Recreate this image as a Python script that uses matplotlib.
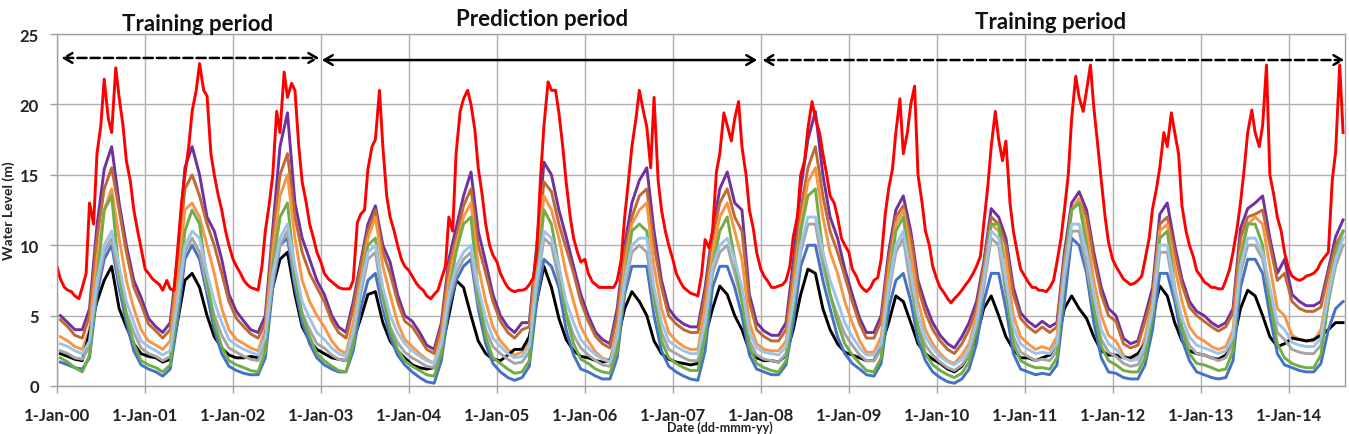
import numpy as np
import pandas as pd
import matplotlib
matplotlib.use("Agg")
import matplotlib.pyplot as plt
import matplotlib.dates as mdates

# ---------------- data ----------------
# red series: semi-monthly values (1st and 15th of each month), Jan 2000 - Aug 2014
red = [
    8.5, 7.6, 7.0, 6.8, 6.7, 6.4, 6.2, 7.0, 8.0, 13.0, 11.5, 16.5, 18.5, 21.8, 19.0, 18.0, 22.6, 20.5, 18.5, 16.0, 14.5, 12.5, 11.0, 9.8,
    8.3, 8.0, 7.6, 7.4, 7.2, 6.8, 7.5, 6.9, 6.8, 9.5, 13.0, 15.0, 17.0, 19.5, 21.0, 22.9, 21.0, 20.6, 16.5, 15.0, 13.5, 12.5, 11.0, 10.0,
    9.0, 8.5, 8.0, 7.5, 7.2, 7.0, 6.9, 6.8, 8.5, 11.0, 13.0, 15.0, 19.5, 18.0, 22.3, 20.5, 21.5, 21.0, 17.0, 14.5, 13.0, 11.5, 10.5, 9.5,
    8.8, 8.0, 7.6, 7.4, 7.2, 7.0, 6.9, 6.9, 6.9, 7.5, 11.6, 12.2, 12.5, 15.4, 17.0, 17.5, 21.0, 17.0, 13.5, 12.0, 11.0, 10.0, 9.0, 8.5,
    8.2, 7.8, 7.3, 7.0, 6.8, 6.4, 6.2, 6.5, 6.8, 7.6, 8.5, 12.0, 11.0, 16.5, 19.5, 20.4, 21.0, 20.0, 18.2, 15.5, 13.5, 11.5, 10.0, 9.3,
    8.8, 8.0, 7.4, 7.0, 6.8, 6.7, 6.8, 6.8, 6.9, 7.2, 7.7, 9.5, 14.9, 18.5, 21.6, 21.0, 21.0, 19.4, 17.0, 14.5, 12.0, 10.5, 9.5, 8.8,
    9.0, 8.0, 7.4, 7.2, 7.0, 7.0, 7.0, 7.0, 7.0, 7.5, 9.0, 12.0, 14.6, 17.0, 19.0, 21.0, 19.5, 18.4, 15.5, 20.5, 14.6, 12.5, 11.0, 10.0,
    9.0, 8.0, 7.4, 7.0, 6.8, 6.6, 6.5, 6.4, 8.0, 10.4, 9.8, 11.0, 15.2, 16.5, 19.4, 18.5, 17.4, 19.0, 20.2, 17.0, 15.0, 12.5, 11.2, 9.5,
    8.3, 7.8, 7.4, 7.0, 7.0, 7.1, 7.2, 7.5, 8.5, 10.6, 12.0, 15.0, 16.0, 18.3, 20.2, 19.0, 18.0, 16.5, 15.0, 13.5, 13.0, 12.0, 10.5, 10.0,
    9.5, 8.3, 7.8, 7.2, 6.9, 6.7, 7.0, 7.5, 7.7, 9.0, 12.2, 14.0, 15.4, 18.0, 20.4, 16.5, 18.0, 20.0, 21.3, 15.0, 13.0, 11.0, 10.0, 8.5,
    7.6, 7.0, 6.6, 6.2, 5.9, 6.2, 6.5, 6.8, 7.2, 7.5, 8.0, 8.5, 9.2, 11.5, 14.2, 17.0, 19.5, 17.5, 16.0, 17.4, 13.0, 11.0, 9.5, 8.3,
    7.8, 7.4, 7.0, 7.0, 6.8, 6.8, 6.7, 7.0, 7.5, 8.8, 10.5, 12.5, 15.0, 19.0, 22.0, 20.5, 19.5, 21.0, 22.8, 19.8, 17.0, 14.6, 12.0, 10.2,
    9.0, 8.5, 8.0, 7.6, 7.4, 7.2, 7.3, 7.5, 7.8, 9.0, 10.5, 12.6, 14.0, 15.5, 18.0, 17.0, 19.4, 18.0, 16.5, 12.8, 11.0, 10.0, 9.2, 8.2,
    7.8, 7.4, 7.2, 7.0, 7.0, 6.9, 6.9, 7.5, 8.3, 9.5, 11.2, 13.0, 15.5, 18.0, 19.6, 18.0, 17.0, 18.5, 22.8, 15.0, 13.5, 12.0, 11.0, 9.5,
    8.3, 7.8, 7.6, 7.5, 7.6, 7.8, 7.9, 8.0, 8.3, 8.8, 9.2, 9.5, 14.6, 16.6, 22.8, 18.0,
]

# other series: monthly values (mid-month), Jan 2000 - Aug 2014
purple = [
    5.0, 4.5, 4.0, 4.0, 5.5, 11.4, 15.4, 17.0, 13.0, 10.0, 7.5, 6.3,
    4.8, 4.2, 3.8, 4.5, 9.0, 15.5, 17.0, 15.0, 12.0, 11.0, 9.0, 6.5,
    5.3, 4.6, 4.0, 3.8, 5.0, 11.2, 17.0, 19.4, 13.0, 10.5, 9.0, 7.5,
    6.5, 5.0, 4.2, 3.8, 6.0, 8.8, 11.5, 12.8, 10.0, 8.8, 6.5, 5.0,
    4.6, 3.8, 2.9, 2.6, 4.5, 9.0, 11.2, 13.5, 15.2, 11.0, 8.8, 6.5,
    5.0, 4.2, 3.8, 4.5, 4.5, 10.0, 15.9, 15.0, 12.5, 10.6, 8.5, 6.5,
    5.0, 3.8, 3.3, 3.0, 5.5, 10.0, 13.0, 14.6, 15.5, 11.0, 7.5, 5.5,
    4.8, 4.4, 4.2, 4.2, 7.0, 11.0, 14.0, 15.2, 13.0, 12.5, 6.5, 4.5,
    3.9, 3.6, 3.6, 4.5, 8.8, 14.0, 17.5, 19.5, 15.0, 12.0, 10.5, 8.3,
    6.5, 4.8, 3.8, 3.8, 5.0, 9.5, 12.5, 13.5, 11.0, 7.5, 5.8, 4.5,
    3.6, 3.0, 2.7, 3.5, 4.5, 6.0, 8.8, 12.6, 12.0, 10.5, 7.0, 5.2,
    4.6, 4.2, 4.6, 4.2, 4.5, 9.5, 13.0, 13.8, 12.5, 9.5, 7.0, 5.5,
    5.0, 3.4, 3.0, 3.2, 5.0, 7.0, 12.2, 13.0, 10.0, 7.6, 6.0, 5.3,
    5.0, 4.5, 4.2, 4.5, 5.5, 11.2, 12.6, 13.0, 13.5, 10.5, 8.0, 9.0,
    6.5, 6.0, 5.7, 5.7, 6.0, 8.3, 10.6, 11.8,
]

brown = [
    4.7, 4.2, 3.6, 3.4, 5.0, 10.5, 14.0, 15.5, 12.5, 9.5, 7.0, 5.8,
    4.4, 3.9, 3.4, 4.0, 8.5, 14.0, 15.0, 13.5, 11.5, 10.0, 8.0, 6.0,
    4.8, 4.2, 3.7, 3.4, 4.5, 10.5, 15.0, 16.5, 12.0, 9.5, 8.0, 7.0,
    6.0, 4.6, 3.8, 3.4, 5.5, 8.5, 11.0, 12.5, 9.5, 8.0, 6.0, 4.6,
    4.2, 3.4, 2.6, 2.3, 4.2, 8.5, 10.5, 12.8, 14.0, 10.0, 8.0, 6.0,
    4.6, 3.8, 3.4, 4.0, 4.2, 9.5, 14.5, 13.8, 11.5, 9.8, 8.0, 6.0,
    4.6, 3.5, 3.0, 2.7, 5.0, 9.5, 12.0, 13.5, 14.0, 10.0, 7.0, 5.0,
    4.4, 4.0, 3.8, 3.8, 6.5, 10.5, 13.0, 14.0, 12.0, 11.0, 6.0, 4.0,
    3.5, 3.2, 3.2, 4.0, 8.0, 12.5, 15.5, 17.0, 13.5, 11.0, 9.5, 7.8,
    6.0, 4.4, 3.4, 3.4, 4.6, 9.0, 12.0, 12.8, 10.5, 7.0, 5.2, 4.0,
    3.2, 2.6, 2.3, 3.0, 4.0, 5.5, 8.5, 12.0, 11.5, 10.0, 6.5, 4.8,
    4.2, 3.8, 4.2, 3.8, 4.2, 9.0, 12.5, 13.3, 12.0, 9.0, 6.5, 5.0,
    4.6, 3.0, 2.7, 2.9, 4.6, 6.5, 11.5, 12.0, 9.5, 7.2, 5.6, 5.0,
    4.6, 4.2, 3.9, 4.2, 5.2, 10.5, 12.0, 12.2, 12.5, 10.0, 7.5, 8.0,
    6.0, 5.5, 5.3, 5.3, 5.6, 8.0, 10.0, 11.0,
]

orange = [
    3.5, 3.2, 2.8, 2.6, 4.0, 9.0, 12.5, 14.0, 10.5, 7.5, 5.5, 4.0,
    3.2, 2.9, 2.6, 3.2, 7.5, 12.5, 13.0, 12.0, 10.0, 8.0, 5.5, 4.0,
    3.3, 3.0, 2.7, 2.5, 4.0, 9.5, 13.5, 15.0, 10.5, 7.5, 6.0, 5.0,
    4.2, 3.2, 2.6, 2.3, 4.5, 7.5, 10.5, 12.0, 8.5, 6.5, 4.5, 3.3,
    2.8, 2.3, 1.9, 1.6, 3.5, 7.5, 10.0, 12.0, 13.0, 8.5, 6.0, 4.2,
    3.2, 2.6, 2.2, 2.4, 3.2, 8.5, 13.5, 12.5, 10.5, 8.0, 6.0, 4.2,
    3.2, 2.4, 2.0, 1.8, 4.0, 8.5, 11.5, 12.5, 13.0, 8.5, 5.5, 3.8,
    3.2, 2.8, 2.6, 2.6, 5.5, 9.5, 12.0, 13.0, 11.0, 9.0, 4.5, 3.0,
    2.6, 2.5, 2.5, 3.2, 7.0, 11.5, 14.5, 15.5, 12.0, 9.5, 8.0, 6.0,
    4.5, 3.2, 2.4, 2.4, 3.5, 8.0, 11.5, 12.5, 9.5, 6.0, 4.0, 3.0,
    2.3, 1.8, 1.6, 2.2, 3.0, 5.0, 8.0, 11.5, 11.0, 9.0, 5.0, 3.5,
    3.0, 2.6, 2.8, 2.6, 3.5, 8.5, 12.5, 13.3, 11.0, 7.5, 5.0, 3.6,
    3.2, 2.2, 1.9, 2.0, 3.5, 6.0, 11.0, 11.5, 8.5, 6.0, 4.2, 3.5,
    3.2, 2.8, 2.6, 2.8, 4.0, 9.5, 11.5, 12.0, 11.5, 8.5, 5.5, 5.0,
    3.6, 3.3, 3.2, 3.2, 4.0, 7.0, 9.5, 11.0,
]

light_blue = [
    3.0, 2.8, 2.5, 2.3, 3.2, 7.5, 10.0, 11.0, 8.5, 6.0, 4.5, 3.2,
    2.8, 2.5, 2.2, 2.5, 6.0, 10.0, 11.0, 10.5, 8.0, 6.0, 4.5, 3.3,
    2.9, 2.6, 2.4, 2.2, 3.5, 8.0, 10.5, 11.5, 8.5, 6.0, 4.8, 3.8,
    3.3, 2.7, 2.3, 2.1, 3.8, 7.0, 9.5, 10.0, 7.0, 5.0, 3.8, 3.0,
    2.5, 2.1, 1.8, 1.6, 3.0, 6.5, 8.5, 9.5, 10.0, 7.0, 4.8, 3.4,
    2.8, 2.3, 2.0, 2.1, 2.8, 7.5, 11.0, 10.5, 8.5, 6.0, 4.5, 3.3,
    2.7, 2.2, 1.9, 1.7, 3.5, 7.5, 10.0, 10.5, 10.5, 7.0, 4.5, 3.2,
    2.8, 2.5, 2.3, 2.3, 4.5, 8.5, 10.0, 10.5, 9.0, 7.0, 3.8, 2.7,
    2.4, 2.3, 2.2, 2.8, 6.0, 10.0, 12.0, 12.0, 9.5, 7.5, 6.0, 4.5,
    3.5, 2.7, 2.2, 2.2, 3.0, 7.0, 10.0, 11.0, 8.0, 5.0, 3.5, 2.7,
    2.1, 1.7, 1.5, 1.9, 2.6, 4.5, 7.5, 11.0, 10.5, 7.5, 4.2, 3.0,
    2.6, 2.3, 2.4, 2.3, 3.0, 8.0, 11.5, 11.5, 9.5, 6.5, 4.0, 3.0,
    2.6, 2.0, 1.8, 1.9, 3.0, 5.5, 10.0, 10.0, 7.0, 4.8, 3.5, 2.9,
    2.7, 2.5, 2.3, 2.5, 3.5, 8.5, 10.5, 10.5, 9.5, 7.0, 4.5, 4.0,
    3.1, 2.9, 2.8, 2.8, 3.4, 6.5, 9.0, 10.5,
]

grey = [
    2.5, 2.3, 2.0, 1.9, 2.8, 7.0, 9.5, 10.5, 7.5, 5.2, 3.8, 2.7,
    2.3, 2.1, 1.8, 2.1, 5.5, 9.5, 10.5, 9.5, 7.0, 5.0, 3.6, 2.7,
    2.4, 2.1, 1.9, 1.8, 3.0, 7.5, 10.0, 11.0, 7.5, 5.2, 4.0, 3.0,
    2.7, 2.2, 1.9, 1.8, 3.3, 6.5, 9.0, 9.5, 6.0, 4.2, 3.1, 2.4,
    2.0, 1.7, 1.4, 1.3, 2.6, 6.0, 8.0, 9.0, 9.5, 6.0, 4.0, 2.8,
    2.3, 1.9, 1.6, 1.7, 2.4, 7.0, 10.5, 10.0, 7.5, 5.2, 3.6, 2.7,
    2.2, 1.8, 1.5, 1.4, 3.0, 7.0, 9.5, 10.0, 9.5, 6.0, 3.8, 2.6,
    2.3, 2.0, 1.8, 1.8, 4.0, 8.0, 9.5, 10.0, 8.0, 6.0, 3.2, 2.2,
    1.9, 1.8, 1.7, 2.3, 5.5, 9.5, 11.5, 11.5, 8.5, 6.5, 5.0, 3.7,
    2.9, 2.2, 1.8, 1.8, 2.6, 6.5, 9.5, 10.5, 7.0, 4.3, 2.9, 2.2,
    1.7, 1.3, 1.1, 1.5, 2.2, 4.0, 7.0, 10.5, 10.0, 6.5, 3.5, 2.4,
    2.1, 1.8, 1.9, 1.8, 2.5, 7.5, 11.0, 11.0, 8.5, 5.5, 3.3, 2.4,
    2.1, 1.6, 1.4, 1.5, 2.5, 5.0, 9.5, 9.5, 6.5, 4.2, 2.9, 2.3,
    2.2, 2.0, 1.8, 2.0, 3.0, 8.0, 10.0, 10.0, 9.0, 6.3, 3.8, 3.3,
    2.6, 2.4, 2.3, 2.3, 2.9, 6.0, 8.5, 10.0,
]

green = [
    2.0, 1.7, 1.3, 1.0, 2.2, 7.5, 12.5, 13.5, 8.0, 5.0, 3.0, 1.8,
    1.5, 1.3, 1.0, 1.5, 5.5, 11.0, 12.5, 11.5, 7.5, 4.5, 2.8, 1.8,
    1.5, 1.3, 1.1, 1.0, 2.5, 8.5, 12.0, 13.0, 8.0, 5.0, 3.5, 2.3,
    1.8, 1.4, 1.1, 1.0, 3.0, 7.0, 10.0, 10.5, 6.5, 4.0, 2.6, 1.8,
    1.4, 1.1, 0.8, 0.7, 2.3, 6.5, 9.5, 11.5, 12.0, 6.5, 3.5, 2.0,
    1.6, 1.2, 0.9, 1.0, 1.8, 7.5, 12.5, 11.5, 8.5, 5.0, 3.0, 1.9,
    1.6, 1.2, 1.0, 0.9, 2.5, 7.5, 11.0, 11.5, 11.0, 6.5, 3.2, 2.0,
    1.6, 1.3, 1.1, 1.1, 3.5, 8.5, 11.0, 12.0, 9.0, 6.0, 2.8, 1.6,
    1.3, 1.1, 1.0, 1.8, 5.5, 11.0, 13.5, 14.0, 9.5, 6.5, 4.5, 3.0,
    2.2, 1.6, 1.1, 1.0, 2.0, 7.0, 11.0, 12.0, 8.0, 4.0, 2.3, 1.5,
    1.1, 0.8, 0.6, 0.9, 1.7, 4.0, 7.5, 11.5, 11.5, 7.0, 3.0, 1.8,
    1.5, 1.3, 1.3, 1.2, 2.0, 8.0, 12.5, 13.0, 10.0, 5.5, 2.8, 1.8,
    1.5, 1.1, 1.0, 1.0, 2.0, 5.0, 10.5, 11.0, 7.0, 4.0, 2.3, 1.6,
    1.5, 1.3, 1.1, 1.2, 2.5, 9.0, 11.5, 11.5, 10.0, 6.0, 3.0, 2.0,
    1.6, 1.4, 1.3, 1.3, 2.2, 6.0, 9.5, 11.0,
]

blue = [
    1.7, 1.5, 1.3, 1.2, 2.0, 6.5, 9.0, 10.0, 7.0, 4.5, 2.5, 1.5,
    1.2, 1.0, 0.7, 1.2, 4.5, 9.0, 10.0, 9.0, 6.5, 4.0, 2.3, 1.4,
    1.1, 0.9, 0.8, 0.8, 2.0, 7.0, 10.0, 10.5, 7.0, 4.5, 3.0, 2.0,
    1.5, 1.2, 1.0, 1.0, 2.5, 5.5, 7.5, 8.0, 5.5, 3.5, 2.2, 1.5,
    1.0, 0.6, 0.3, 0.2, 1.8, 5.5, 7.5, 8.5, 9.0, 5.5, 3.0, 1.6,
    1.0, 0.6, 0.4, 0.6, 1.4, 6.0, 9.0, 8.5, 7.0, 4.0, 2.2, 1.2,
    1.0, 0.7, 0.5, 0.5, 2.0, 6.5, 8.5, 8.5, 8.5, 5.0, 2.5, 1.4,
    1.0, 0.7, 0.5, 0.4, 2.5, 7.0, 8.5, 8.5, 7.0, 5.0, 2.2, 1.2,
    1.0, 0.8, 0.8, 1.5, 4.5, 8.5, 10.0, 10.0, 7.5, 5.5, 3.5, 2.3,
    1.6, 1.2, 0.8, 0.7, 1.6, 5.5, 7.5, 8.0, 6.0, 3.3, 1.8, 1.0,
    0.6, 0.3, 0.2, 0.5, 1.2, 3.0, 6.0, 8.0, 8.0, 5.5, 2.3, 1.2,
    1.0, 0.8, 0.9, 0.8, 1.5, 6.0, 10.5, 10.0, 8.0, 4.5, 2.0, 1.0,
    0.9, 0.6, 0.5, 0.5, 1.5, 4.0, 8.0, 8.0, 6.0, 3.3, 1.8, 1.0,
    0.8, 0.6, 0.5, 0.6, 1.8, 7.0, 9.0, 9.0, 8.0, 5.0, 2.3, 1.5,
    1.3, 1.1, 1.0, 1.0, 1.6, 4.0, 5.5, 6.0,
]

black = [
    2.3, 2.1, 1.9, 1.8, 3.8, 6.0, 7.5, 8.5, 5.5, 4.2, 3.0, 2.3,
    2.1, 2.0, 1.7, 1.9, 4.5, 7.5, 8.0, 7.0, 5.0, 3.5, 2.7, 2.2,
    2.0, 2.0, 2.1, 2.0, 3.5, 7.0, 9.0, 9.5, 6.5, 4.2, 3.2, 2.6,
    2.3, 2.0, 1.9, 1.8, 3.2, 4.8, 6.5, 6.7, 4.5, 3.2, 2.5, 2.0,
    1.5, 1.3, 1.2, 1.3, 2.5, 5.0, 7.5, 7.0, 5.0, 3.2, 2.3, 1.9,
    1.8, 2.2, 2.6, 2.6, 3.5, 6.0, 8.5, 7.0, 4.8, 3.3, 2.5, 2.1,
    2.0, 1.8, 1.7, 1.8, 3.2, 5.5, 6.7, 6.0, 5.0, 3.2, 2.3, 1.9,
    1.7, 1.6, 1.5, 1.6, 3.5, 5.5, 7.1, 6.5, 5.0, 4.0, 2.5, 2.0,
    1.8, 1.8, 1.7, 2.2, 4.0, 6.5, 8.3, 8.0, 5.5, 4.0, 3.0, 2.4,
    2.2, 2.0, 1.8, 1.8, 2.8, 4.5, 6.4, 6.0, 4.5, 3.0, 2.3, 1.9,
    1.6, 1.2, 1.0, 1.4, 2.2, 3.5, 5.5, 6.4, 5.0, 3.5, 2.6, 2.0,
    2.0, 1.8, 2.0, 2.2, 3.0, 5.5, 6.4, 5.5, 4.8, 3.5, 2.5, 2.2,
    2.2, 2.0, 2.0, 2.3, 3.0, 5.0, 7.1, 6.4, 4.5, 3.2, 2.5, 2.3,
    2.2, 2.0, 1.9, 2.2, 3.0, 5.5, 6.8, 6.4, 5.0, 3.5, 2.8, 3.0,
    3.4, 3.3, 3.2, 3.3, 3.6, 4.0, 4.5, 4.5,
]

period_labels = ["Training period", "Prediction period", "Training period"]
period_starts = ["2000-01-20", "2003-01-05", "2008-01-08"]
period_ends = ["2002-12-25", "2007-12-17", "2014-08-20"]
period_styles = ["--", "-", "--"]
tick_years = list(range(2000, 2015))
y_ticks = [0, 5, 10, 15, 20, 25]

# ---------------- figure ----------------
W, H, DPI = 1349, 435, 100
fig = plt.figure(figsize=(W / DPI, H / DPI), dpi=DPI)
ax = fig.add_axes([57 / W, (H - 387) / H, (1345 - 57) / W, (387 - 35) / H])

FONT = "Lato"

dates_semi = pd.date_range("2000-01-01", periods=len(red), freq="SMS")
dates_month = pd.date_range("2000-01-01", periods=len(purple), freq="MS") + pd.Timedelta(days=14)

lw = 2.1
series = [
    (purple, "#7030A0"),
    (brown, "#BF6A33"),
    (orange, "#F79646"),
    (black, "#000000"),
    (blue, "#4472C4"),
    (grey, "#A5A5A5"),
    (green, "#70AD47"),
    (light_blue, "#9DC3E6"),
]
for vals, col in series:
    ax.plot(dates_month, vals, color=col, lw=lw)
ax.plot(dates_semi, red, color="#FF0000", lw=lw)

ax.set_ylim(0, 25)
ax.set_yticks(y_ticks)
x0 = pd.Timestamp("2000-01-01")
x1 = pd.Timestamp("2014-08-23")
ax.set_xlim(x0, x1)
ticks = [pd.Timestamp(f"{y}-01-01") for y in tick_years]
ax.set_xticks(ticks)
ax.set_xticklabels([f"1-Jan-{str(y)[2:]}" for y in tick_years])

ax.grid(True, color="#B0B0B0", lw=1.0)
ax.set_axisbelow(True)
for s in ax.spines.values():
    s.set_color("#A0A0A0")
    s.set_linewidth(1.0)
ax.tick_params(axis="both", direction="out", length=5, color="#A0A0A0", width=1.0,
               labelsize=12)
ax.tick_params(axis="x", pad=10)
ax.tick_params(axis="y", pad=8)
for lab in ax.get_xticklabels() + ax.get_yticklabels():
    lab.set_fontfamily(FONT)
    lab.set_fontweight("bold")
    lab.set_color("#222222")

# period arrows and labels
arrow_y = [23.3, 23.15, 23.15]
label_x = ["2001-08-08", "2005-07-08", "2011-04-20"]
label_y = [25.0, 25.35, 25.15]
for lbl, s, e, st, ay, lx, ly in zip(period_labels, period_starts, period_ends, period_styles,
                                     arrow_y, label_x, label_y):
    ax.annotate("", xy=(mdates.date2num(pd.Timestamp(e)), ay),
                xytext=(mdates.date2num(pd.Timestamp(s)), ay),
                arrowprops=dict(arrowstyle="<->,head_length=0.6,head_width=0.35",
                                color="black", lw=1.8, linestyle=st,
                                shrinkA=0, shrinkB=0),
                annotation_clip=False)
    ax.text(mdates.date2num(pd.Timestamp(lx)), ly, lbl, ha="center", va="bottom",
            fontsize=16, fontweight="bold", fontfamily=FONT, color="#111111",
            clip_on=False)

# axis titles
fig.text(9 / W, 0.515, "Water Level (m)", rotation=90, ha="center", va="center",
         fontsize=10, fontweight="bold", fontfamily=FONT, color="#222222")
fig.text(720 / W, 1 - 428 / H, "Date (dd-mmm-yy)", ha="center", va="center",
         fontsize=9, fontweight="bold", fontfamily=FONT, color="#222222")

fig.savefig("out.png", dpi=DPI)
